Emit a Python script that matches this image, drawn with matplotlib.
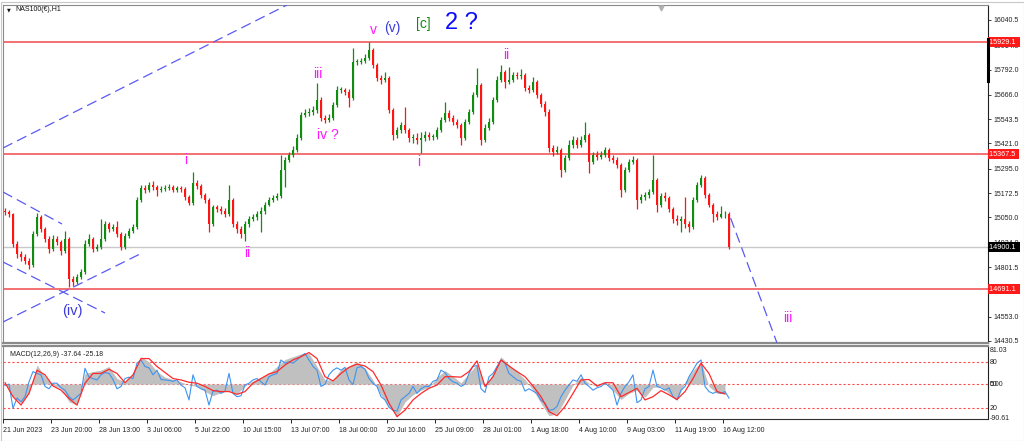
import matplotlib
matplotlib.use("Agg")
import matplotlib.pyplot as plt
import numpy as np
from matplotlib.transforms import blended_transform_factory
from matplotlib.patches import Rectangle

plt.rcParams['font.family'] = ['Liberation Sans', 'DejaVu Sans']
plt.rcParams['lines.scale_dashes'] = False

# ---------------- data ----------------
symbol_title = "NAS100(€),H1"
macd_title = "MACD(12,26,9) -37.64 -25.18"

first_open = 15080
closes = [15075,15065,14915,14865,14850,14830,14810,14965,15050,14990,
          14940,14890,14940,14925,14880,14940,14740,14725,14750,14775,
          14915,14940,14890,14900,14940,15015,14990,15000,14965,14900,
          14955,14980,15000,15140,15200,15190,15215,15205,15190,15195,
          15200,15205,15190,15200,15195,15155,15125,15225,15210,15165,
          15140,15015,15100,15090,15080,15065,15140,15015,14990,14965,
          15015,15040,15050,15065,15080,15115,15140,15150,15160,15290,
          15340,15365,15390,15450,15565,15575,15580,15590,15640,15550,
          15540,15550,15615,15690,15690,15680,15650,15830,15830,15835,
          15850,15890,15815,15750,15740,15750,15590,15465,15490,15515,
          15490,15450,15450,15440,15450,15465,15455,15455,15490,15540,
          15575,15550,15530,15515,15450,15530,15580,15665,15715,15440,
          15500,15530,15640,15740,15780,15730,15740,15765,15760,15765,
          15700,15690,15730,15665,15620,15580,15400,15380,15390,15290,
          15350,15415,15440,15415,15440,15465,15330,15365,15355,15365,
          15390,15350,15340,15315,15190,15290,15330,15340,15140,15155,
          15165,15180,15240,15115,15160,15150,15090,15040,15030,15040,
          15015,15000,15140,15215,15250,15165,15115,15065,15050,15065,
          15065,14900]
highs = [15095,15085,15070,14930,14880,14865,14845,14980,15070,15060,
         15000,14955,14960,14955,14935,14980,14950,14755,14765,14790,
         14935,14965,14950,14915,15040,15030,15025,15015,15030,14975,
         14970,14995,15015,15155,15215,15215,15230,15235,15215,15210,
         15215,15220,15215,15210,15210,15205,15165,15280,15240,15220,
         15175,15150,15115,15115,15105,15095,15215,15150,15030,15005,
         15030,15055,15065,15080,15100,15130,15155,15165,15175,15365,
         15355,15380,15410,15470,15580,15595,15600,15610,15725,15655,
         15565,15570,15630,15710,15705,15700,15695,15900,15845,15850,
         15870,15930,15900,15825,15765,15780,15760,15600,15505,15530,
         15605,15500,15470,15475,15480,15485,15480,15470,15505,15555,
         15630,15590,15565,15545,15525,15545,15595,15680,15800,15725,
         15520,15550,15655,15760,15815,15790,15805,15780,15780,15795,
         15775,15715,15755,15740,15675,15635,15595,15415,15410,15400,
         15365,15440,15460,15455,15460,15530,15475,15380,15385,15385,
         15405,15400,15365,15355,15325,15305,15345,15360,15350,15170,
         15180,15195,15365,15250,15175,15180,15160,15100,15060,15055,
         15155,15030,15155,15230,15265,15260,15175,15125,15080,15105,
         15080,15075]
lows = [15060,15050,14900,14845,14830,14815,14790,14800,14955,14975,
        14925,14870,14880,14910,14860,14870,14700,14705,14715,14740,
        14765,14905,14875,14880,14890,14930,14975,14980,14950,14885,
        14890,14945,14970,14990,15130,15175,15180,15190,15160,15180,
        15185,15190,15180,15180,15180,15140,15110,15115,15195,15150,
        15125,14975,15005,15075,15065,15050,15055,15000,14970,14945,
        14930,15000,15030,15035,14975,15065,15105,15130,15140,15150,
        15205,15330,15355,15380,15440,15555,15560,15565,15575,15535,
        15525,15530,15540,15605,15675,15665,15605,15640,15815,15820,
        15825,15840,15800,15735,15720,15730,15575,15440,15450,15475,
        15475,15430,15425,15420,15375,15435,15440,15440,15445,15480,
        15530,15535,15515,15500,15415,15440,15520,15570,15655,15415,
        15430,15490,15520,15630,15730,15700,15720,15730,15745,15745,
        15685,15675,15680,15650,15605,15560,15380,15360,15370,15255,
        15280,15340,15400,15400,15405,15430,15275,15320,15340,15345,
        15355,15335,15325,15300,15155,15180,15280,15320,15090,15125,
        15140,15150,15170,15075,15100,15135,15075,15020,15010,14975,
        14995,14975,14990,15130,15205,15150,15100,15025,15035,15045,
        15045,14890]

macd_hist = [5,-27,-41,-20,41,16,-2,-9,-38,-45,
             23,27,30,38,12,5,23,59,48,27,
             15,10,5,-2,-5,-16,-25,-18,-14,-21,
             -4,7,15,23,38,53,59,65,66,38,
             9,9,32,39,48,34,9,-23,-48,-70,
             -38,-23,-13,-7,15,29,17,3,23,43,
             -5,23,59,41,27,10,-13,-41,-68,-64,
             -34,-2,15,2,-5,3,-13,-33,-20,-13,
             -28,-7,-5,-20,-34,5,29,48,-5,-20,
             -21]
macd_signal = [3,-27,-45,-20,30,20,-4,-13,-31,-45,
               2,23,23,32,23,3,20,55,55,38,
               25,12,9,4,2,-5,-14,-16,-16,-22,
               -16,2,12,22,27,41,52,59,68,55,
               16,7,23,36,43,39,27,-2,-41,-70,
               -56,-34,-20,-9,-2,16,16,15,27,50,
               -5,16,52,39,27,16,-4,-27,-59,-68,
               -48,-20,9,10,-4,3,3,-27,-18,-9,
               -34,-27,-14,-23,-33,-16,12,45,23,-16,
               -21]
macd_fast = [-3,0,-52,-30,-38,-27,5,27,23,20,
             -5,-10,2,2,-8,-13,-27,-34,-27,-20,
             34,15,12,9,20,25,23,10,-10,-5,
             12,15,12,45,52,38,35,20,30,10,
             9,8,6,9,-2,-8,-34,20,-5,-10,
             -13,-45,-15,-13,-20,-15,23,-20,-27,-25,
             -2,2,9,12,5,-2,16,20,23,52,
             45,48,45,52,60,66,52,38,30,-5,
             0,20,30,35,30,36,9,-1,35,38,
             32,12,2,-5,-27,-34,-50,-56,-58,-34,
             -27,-20,-5,-20,-10,-5,-5,6,9,30,
             25,12,5,2,-5,0,23,38,40,-10,
             -18,16,23,38,52,45,23,16,9,6,
             -15,-10,-15,-20,-35,-41,-56,-55,-48,-27,
             -13,-2,9,6,20,2,-5,-13,-8,-5,
             2,-5,-13,-45,-20,-5,5,20,-40,-34,
             -10,-5,30,-5,-8,-13,-8,-27,-34,-13,
             -5,16,30,45,52,-5,-16,-20,-16,-20,
             -16,-30]

red_levels = [15929.1, 15367.5, 14691.1]
last_price = 14900.1
price_ticks = [16040.5, 15914.5, 15792.0, 15666.0, 15543.5, 15421.0, 15295.0,
               15172.5, 15050.0, 14924.0, 14801.5, 14678.5, 14553.0, 14430.5]
time_labels = ["21 Jun 2023", "23 Jun 20:00", "28 Jun 13:00", "3 Jul 06:00",
               "5 Jul 22:00", "10 Jul 15:00", "13 Jul 07:00", "18 Jul 00:00",
               "20 Jul 16:00", "25 Jul 09:00", "28 Jul 01:00", "1 Aug 18:00",
               "4 Aug 10:00", "9 Aug 03:00", "11 Aug 19:00", "16 Aug 12:00"]
macd_right_labels = [("81.03", 351), ("80", 362), ("50", 384), ("0.00", 384),
                     ("20", 408), ("-90.61", 418)]

# analyst objects: trendlines (bar, price) anchors
trendlines = [((-0.5, 15398.4), (70.5, 16115.7)),
              ((-0.5, 15177.7), (14.25, 15017.2)),
              ((-0.5, 14826.6), (25.0, 14570.8)),
              ((-0.5, 14525.6), (34.25, 14871.7)),
              ((181.4, 15047.0), (193.0, 14420.3))]

MAG = "#ff19ff"
VIO = "#3c3cdc"
wave_labels = [("v", 92.0, 15990, MAG, 10),
               ("(v)", 96.75, 16000, VIO, 10),
               ("[c]", 104.5, 16022, "#138a13", 10),
               ("2 ?", 114.1, 16025, "#0a0aff", 17),
               ("iii", 78.25, 15768, MAG, 10),
               ("iv ?", 80.75, 15464, MAG, 10),
               ("i", 45.25, 15340, MAG, 10),
               ("ii", 60.5, 14872, MAG, 10),
               ("(iv)", 16.75, 14581, VIO, 10.5),
               ("i", 103.5, 15330, MAG, 10),
               ("ii", 125.25, 15866, MAG, 10),
               ("iii", 195.75, 14546, MAG, 10)]

# ---------------- figure ----------------
W, H = 1024, 441
fig = plt.figure(figsize=(W / 100, H / 100), dpi=100)
fig.patch.set_facecolor("white")

def frac(x0, y0, x1, y1):
    return [x0 / W, 1 - y1 / H, (x1 - x0) / W, (y1 - y0) / H]

ax = fig.add_axes(frac(3, 5, 988, 343))
axm = fig.add_axes(frac(3, 346, 988, 419))

n = len(closes)
xb = np.arange(n)
opens = [first_open] + closes[:-1]
up = np.array(closes) >= np.array(opens)
GREEN = "#108c10"
RED = "#ff1414"
cols = np.where(up, GREEN, RED)
ax.vlines(xb, lows, highs, colors=cols, lw=0.9, zorder=3)
bottoms = np.minimum(opens, closes)
heights = np.maximum(np.abs(np.array(closes) - np.array(opens)), 3)
ax.bar(xb, heights, bottom=bottoms, width=0.72, color=cols, lw=0, zorder=4)

xlim = (-0.5, 245.75)
ax.set_xlim(*xlim)
ax.set_ylim(14420.3, 16115.7)

for lv in red_levels:
    ax.axhline(lv, color="#f04a4a", lw=1.1, zorder=2)
ax.axhline(last_price, color="#c8c8c8", lw=1.0, zorder=1)

for (x0, p0), (x1, p1) in trendlines:
    ax.plot([x0, x1], [p0, p1], color="#5a5af5", lw=0.9, dashes=(7.5, 3.8), zorder=5)

for txt, x, p, c, fs in wave_labels:
    ax.text(x, p, txt, color=c, fontsize=fs, ha="center", va="center", zorder=6)

# right price axis
ax.yaxis.tick_right()
ax.set_yticks(price_ticks)
ax.set_yticklabels([f"{t:.1f}" for t in price_ticks])
ax.tick_params(axis="y", direction="out", length=2.5, width=0.6, pad=1.5,
               labelsize=5, colors="#222222")
ax.set_xticks([])
tr = blended_transform_factory(ax.transAxes, ax.transData)
for lv in red_levels:
    ax.text(1.0015, lv, f"{lv:.1f} ", transform=tr, ha="left", va="center",
            fontsize=5.2, color="white", zorder=20, clip_on=False,
            bbox=dict(boxstyle="square,pad=0.22", fc="#ff1a1a", ec="none"))
ax.text(1.0015, last_price, f"{last_price:.1f} ", transform=tr, ha="left",
        va="center", fontsize=5.2, color="white", zorder=20, clip_on=False,
        bbox=dict(boxstyle="square,pad=0.22", fc="black", ec="none"))
ax.plot([1.0, 1.0], [15945, 15735], transform=tr, color="black", lw=2.2,
        clip_on=False, zorder=21)
trt = blended_transform_factory(ax.transData, ax.transAxes)
ax.plot([164], [0.99], marker="v", color="#b0b0b0", ms=3.5, transform=trt,
        clip_on=False, zorder=21)

for s in ["left", "top"]:
    ax.spines[s].set_color("#8a8a8a")
ax.spines["bottom"].set_color("#8a8a8a")
ax.spines["bottom"].set_linewidth(1.6)
ax.spines["right"].set_color("#202020")

fig.text(15 / W, 1 - 9.5 / H, symbol_title, fontsize=5, color="#111111",
         ha="left", va="center")
fig.text(9 / W, 1 - 9.5 / H, "▼", fontsize=3.5, color="#111111",
         ha="center", va="center", family="DejaVu Sans")

# ---------------- MACD ----------------
xm = np.arange(len(macd_hist)) * 2
axm.fill_between(xm, 0, macd_hist, color="#c0c0c0", lw=0, zorder=2)
axm.plot(np.arange(len(macd_fast)), macd_fast, color="#3d94f0", lw=0.8, zorder=3)
axm.plot(xm, macd_signal, color="#ff2a2a", lw=0.9, zorder=4)
axm.set_xlim(*xlim)
axm.set_ylim(-75, 82)
for lv in [47.6, 0.0, -51.3]:
    axm.axhline(lv, color="#ff4a4a", lw=0.8, dashes=(1.6, 1.6), zorder=1)
axm.set_yticks([])
ticks = np.arange(len(time_labels)) * 12 - 0.42
axm.set_xticks(ticks)
axm.set_xticklabels(time_labels)
axm.tick_params(axis="x", direction="out", length=3, width=0.7, pad=2.5,
                labelsize=5, colors="#222222")
for lb in axm.get_xticklabels():
    lb.set_horizontalalignment("left")
for s in ["left", "top"]:
    axm.spines[s].set_color("#8a8a8a")
axm.spines["top"].set_linewidth(1.6)
axm.spines["right"].set_color("#202020")
axm.spines["bottom"].set_color("#303030")
axm.text(7 / 985, 0.93, macd_title, transform=axm.transAxes, fontsize=5,
         color="#222222", ha="left", va="top")
for txt, yp in macd_right_labels:
    fig.text(990 / W, 1 - yp / H, txt, fontsize=5, color="#222222",
             ha="left", va="center")

fig.add_artist(Rectangle((0.5 / W, 0), 1 - 1 / W, 1 - 1.5 / H, transform=fig.transFigure,
                         fill=False, ec="#c8c8c8", lw=0.8))

fig.savefig("out.png", dpi=100)
